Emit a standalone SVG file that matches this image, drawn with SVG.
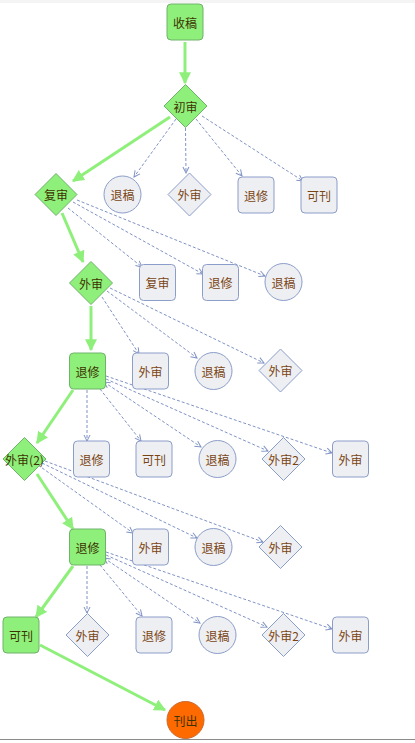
<svg xmlns="http://www.w3.org/2000/svg" width="415" height="743" viewBox="0 0 415 743">
<defs>
<style>
text{font-family:"Noto Sans CJK SC","Microsoft YaHei",sans-serif;font-size:12px;text-anchor:middle;dominant-baseline:central}
.g{fill:#8ef07a;stroke:#6fb36a;stroke-width:1}
.n{fill:#eeeff2;stroke:#8b9dc9;stroke-width:1}
.o{fill:#ff6a00;stroke:#c8682a;stroke-width:1}
.tg{fill:#3d3300}
.tn{fill:#7a4514}
.main{stroke:#8ef07a;stroke-width:3;fill:none;marker-end:url(#ga)}
.d{stroke:#7f93c4;stroke-width:1;stroke-dasharray:3 2;fill:none;marker-end:url(#da)}
</style>
<marker id="ga" viewBox="0 0 10 10" refX="9" refY="5" markerWidth="4" markerHeight="4" orient="auto" markerUnits="strokeWidth">
<path d="M0,0 L10,5 L0,10 z" fill="#8ef07a"/>
</marker>
<marker id="da" viewBox="0 0 8 8" refX="7" refY="4" markerWidth="8" markerHeight="8" orient="auto" markerUnits="userSpaceOnUse">
<path d="M1,1 L7,4 L1,7" fill="none" stroke="#7f93c4" stroke-width="1"/>
</marker>
<marker id="ds" viewBox="0 0 8 8" refX="1" refY="4" markerWidth="8" markerHeight="8" orient="auto" markerUnits="userSpaceOnUse">
<path d="M7,1 L1,4 L7,7" fill="none" stroke="#7f93c4" stroke-width="1"/>
</marker>
</defs>
<rect x="0" y="0" width="415" height="743" fill="#ffffff"/>
<rect x="0" y="0" width="415" height="3" fill="#f4f4f4"/>
<line x1="0" y1="739.5" x2="415" y2="739.5" stroke="#8a8a8a" stroke-width="1"/>

<g id="connectors">
<line class="main" x1="185" y1="42" x2="185" y2="83"/>
<line class="main" x1="170" y1="117" x2="73" y2="181"/>
<line class="main" x1="62" y1="213" x2="83" y2="262"/>
<line class="main" x1="91" y1="306" x2="91" y2="350"/>
<line class="main" x1="73" y1="390" x2="37" y2="443"/>
<line class="main" x1="37" y1="474" x2="73" y2="529"/>
<line class="main" x1="73" y1="566" x2="36" y2="617"/>
<line class="main" x1="40" y1="645" x2="165" y2="710"/>

<line class="d" x1="176" y1="119" x2="134" y2="177"/>
<line class="d" x1="185.5" y1="128" x2="186" y2="173"/>
<line class="d" x1="196" y1="119" x2="242" y2="176"/>
<line class="d" x1="202" y1="116" x2="303" y2="181"/>

<line class="d" x1="68" y1="208" x2="142" y2="267"/>
<line class="d" x1="73" y1="202" x2="203" y2="274"/>
<line class="d" x1="77" y1="200" x2="265" y2="276"/>

<line class="d" x1="102" y1="297" x2="139" y2="354"/>
<line class="d" x1="107" y1="291" x2="197" y2="358"/>
<line class="d" x1="110" y1="288" x2="264" y2="363"/>

<line class="d" x1="87" y1="390" x2="87" y2="441"/>
<line class="d" x1="100" y1="389" x2="141" y2="441"/>
<line class="d" x1="104" y1="382" x2="201" y2="447" style="marker-start:url(#ds)"/>
<line class="d" x1="106" y1="379" x2="268" y2="451"/>
<line class="d" x1="106" y1="376" x2="332" y2="453"/>

<line class="d" x1="38" y1="465" x2="133" y2="533"/>
<line class="d" x1="42" y1="463" x2="197" y2="538"/>
<line class="d" x1="45" y1="461" x2="263" y2="542"/>

<line class="d" x1="87" y1="566" x2="87" y2="613"/>
<line class="d" x1="100" y1="565" x2="142" y2="616"/>
<line class="d" x1="104" y1="558" x2="200" y2="623" style="marker-start:url(#ds)"/>
<line class="d" x1="106" y1="555" x2="267" y2="627"/>
<line class="d" x1="106" y1="552" x2="332" y2="629"/>
</g>

<g id="n-shougao"><rect class="g" x="167" y="4" width="36" height="36" rx="4"/><text class="tg" x="185" y="22">收稿</text></g>
<g id="n-chushen"><polygon class="g" points="185.5,84.5 207,106 185.5,127.5 164,106"/><text class="tg" x="185.5" y="106">初审</text></g>

<g id="n-fushen"><polygon class="g" points="56,173.5 77,194.5 56,215.5 35,194.5"/><text class="tg" x="56" y="194.5">复审</text></g>
<g id="n-r1-tuigao"><circle class="n" cx="122.5" cy="194.5" r="18.5"/><text class="tn" x="122.5" y="194.5">退稿</text></g>
<g id="n-r1-waishen"><polygon class="n" points="189.5,173 211,194.5 189.5,216 168,194.5"/><text class="tn" x="189.5" y="194.5">外审</text></g>
<g id="n-r1-tuixiu"><rect class="n" x="238" y="177" width="36" height="36" rx="4"/><text class="tn" x="256" y="195">退修</text></g>
<g id="n-r1-kekan"><rect class="n" x="301" y="177" width="36" height="36" rx="4"/><text class="tn" x="319" y="195">可刊</text></g>

<g id="n-waishen"><polygon class="g" points="91,261.5 112.5,283 91,304.5 69.5,283"/><text class="tg" x="91" y="283">外审</text></g>
<g id="n-r2-fushen"><rect class="n" x="139.5" y="264.5" width="36" height="36" rx="4"/><text class="tn" x="157.5" y="282.5">复审</text></g>
<g id="n-r2-tuixiu"><rect class="n" x="202.5" y="264.5" width="36" height="36" rx="4"/><text class="tn" x="220.5" y="282.5">退修</text></g>
<g id="n-r2-tuigao"><circle class="n" cx="283.5" cy="282" r="18.5"/><text class="tn" x="283.5" y="282">退稿</text></g>

<g id="n-tuixiu1"><rect class="g" x="69.5" y="353" width="36" height="36" rx="4"/><text class="tg" x="87.5" y="371">退修</text></g>
<g id="n-r3-waishen"><rect class="n" x="132.5" y="353" width="36" height="36" rx="4"/><text class="tn" x="150.5" y="371">外审</text></g>
<g id="n-r3-tuigao"><circle class="n" cx="213.5" cy="371" r="18.5"/><text class="tn" x="213.5" y="371">退稿</text></g>
<g id="n-r3-waishen2"><polygon class="n" points="280.5,349 302,370.5 280.5,392 259,370.5"/><text class="tn" x="280.5" y="370.5">外审</text></g>

<g id="n-waishen2"><polygon class="g" points="24.5,437.5 46,459 24.5,480.5 3,459"/><text class="tg" x="24.5" y="459">外审(2)</text></g>
<g id="n-r4-tuixiu"><rect class="n" x="73.5" y="441" width="36" height="36" rx="4"/><text class="tn" x="91.5" y="459">退修</text></g>
<g id="n-r4-kekan"><rect class="n" x="136" y="441" width="36" height="36" rx="4"/><text class="tn" x="154" y="459">可刊</text></g>
<g id="n-r4-tuigao"><circle class="n" cx="217.5" cy="459" r="18.5"/><text class="tn" x="217.5" y="459">退稿</text></g>
<g id="n-r4-waishen2"><polygon class="n" points="283.5,437.5 305,459 283.5,480.5 262,459"/><text class="tn" x="283.5" y="459">外审2</text></g>
<g id="n-r4-waishen"><rect class="n" x="332.5" y="441" width="36" height="36" rx="4"/><text class="tn" x="350.5" y="459">外审</text></g>

<g id="n-tuixiu2"><rect class="g" x="69.5" y="529" width="36" height="36" rx="4"/><text class="tg" x="87.5" y="547">退修</text></g>
<g id="n-r5-waishen"><rect class="n" x="132.5" y="529" width="36" height="36" rx="4"/><text class="tn" x="150.5" y="547">外审</text></g>
<g id="n-r5-tuigao"><circle class="n" cx="213.5" cy="547" r="18.5"/><text class="tn" x="213.5" y="547">退稿</text></g>
<g id="n-r5-waishen2"><polygon class="n" points="280.5,525.5 302,547 280.5,568.5 259,547"/><text class="tn" x="280.5" y="547">外审</text></g>

<g id="n-kekan"><rect class="g" x="3" y="617" width="36" height="36" rx="4"/><text class="tg" x="21" y="635">可刊</text></g>
<g id="n-r6-waishen"><polygon class="n" points="87.5,613.5 109,635 87.5,656.5 66,635"/><text class="tn" x="87.5" y="635">外审</text></g>
<g id="n-r6-tuixiu"><rect class="n" x="136" y="617" width="36" height="36" rx="4"/><text class="tn" x="154" y="635">退修</text></g>
<g id="n-r6-tuigao"><circle class="n" cx="217.5" cy="635" r="18.5"/><text class="tn" x="217.5" y="635">退稿</text></g>
<g id="n-r6-waishen2"><polygon class="n" points="283.5,613.5 305,635 283.5,656.5 262,635"/><text class="tn" x="283.5" y="635">外审2</text></g>
<g id="n-r6-waishen"><rect class="n" x="332.5" y="617" width="36" height="36" rx="4"/><text class="tn" x="350.5" y="635">外审</text></g>

<g id="n-kanchu"><circle class="o" cx="185.5" cy="720" r="18.5"/><text class="tg" x="185.5" y="720">刊出</text></g>
</svg>
